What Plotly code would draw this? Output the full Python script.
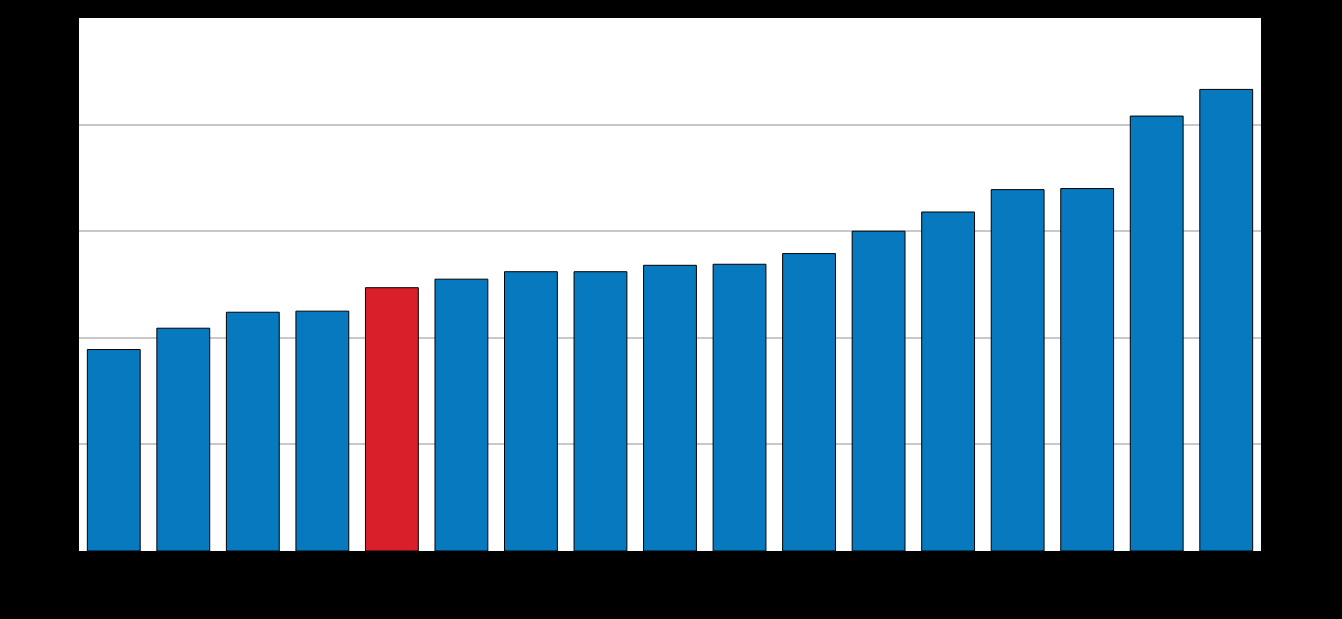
import plotly.graph_objects as go

categories = ["C1", "C2", "C3", "C4", "C5", "C6", "C7", "C8", "C9",
              "C10", "C11", "C12", "C13", "C14", "C15", "C16", "C17"]
values = [18.9, 20.9, 22.4, 22.5, 24.7, 25.5, 26.2, 26.2, 26.8,
          26.9, 27.9, 30.0, 31.8, 33.9, 34.0, 40.8, 43.3]
highlight = "C5"
y_ticks = [0, 10, 20, 30, 40, 50]

colors = ["#D9202A" if c == highlight else "#0779BF" for c in categories]

fig = go.Figure(go.Bar(
    x=categories, y=values,
    marker=dict(color=colors, line=dict(color="#000000", width=1)),
))

fig.update_layout(
    width=1342, height=619,
    paper_bgcolor="#000000", plot_bgcolor="#ffffff",
    margin=dict(l=79, r=81, t=18, b=68),
    bargap=0.24,
    showlegend=False,
    font=dict(family="Liberation Sans, Arial", color="#000000", size=12),
)
fig.update_xaxes(showgrid=False, showline=False, ticks="", tickfont=dict(color="#000000"))
fig.update_yaxes(range=[0, 50], tickvals=y_ticks, showgrid=True, gridcolor="#C8C8C8",
                 gridwidth=1.5, zeroline=False, ticks="", showline=False,
                 tickfont=dict(color="#000000"))

fig.write_html("out.html", config={"displayModeBar": False},
               post_script="document.body.style.margin='0';document.body.style.background='#000';")
